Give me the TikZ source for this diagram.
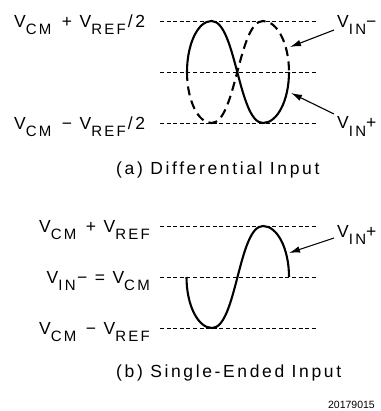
\documentclass[tikz,border=0pt]{standalone}
\usepackage{fontspec}
\setmainfont[LetterSpace=15]{Liberation Sans}
\newfontfamily\numfont{Liberation Sans}
\usetikzlibrary{arrows.meta}
\newcommand{\sbs}[1]{\raisebox{-7.5pt}{\fontsize{15pt}{15pt}\selectfont #1}}
\begin{document}
\begin{tikzpicture}[x=1pt,y=-1pt,
  lbl/.style={inner sep=0pt, font=\fontsize{17.5pt}{17.5pt}\selectfont},
  refline/.style={line width=0.8pt, dash pattern=on 4pt off 2.6pt},
  curve/.style={line width=2.1pt},
  dcurve/.style={line width=2.1pt, dash pattern=on 9pt off 5.5pt},
  pointer/.style={line width=1.1pt, -{Latex[length=11pt,width=6.5pt]}}]
\useasboundingbox (0,0) rectangle (380,411);
% panel (a) reference lines
\foreach \y/\n in {21/at,72/am,123/ab}{
  \coordinate (\n1) at (160,\y);
  \coordinate (\n2) at (316,\y);
  \draw[refline] (\n1) -- (\n2);
}
% V_IN+ (solid) and V_IN- (dashed)
\draw[curve] (187,72) .. controls (187,43.8) and (198,21) .. (211.5,21)
  .. controls (236,21) and (238.5,123) .. (263,123)
  .. controls (277.4,123) and (289,100.2) .. (289,72);
\draw[dcurve] (187,72) .. controls (187,100.2) and (198,123) .. (211.5,123)
  .. controls (236,123) and (238.5,21) .. (263,21)
  .. controls (277.4,21) and (289,43.8) .. (289,72);
% panel (b) reference lines
\foreach \y/\n in {226/bt,277/bm,328/bb}{
  \coordinate (\n1) at (160,\y);
  \coordinate (\n2) at (316,\y);
  \draw[refline] (\n1) -- (\n2);
}
\draw[curve] (186.5,277) .. controls (186.5,305.2) and (198,328) .. (212,328)
  .. controls (236.5,328) and (238.5,226) .. (263,226)
  .. controls (277.4,226) and (289,248.8) .. (289,277);
% labels
\node[lbl, anchor=base west] (la1) at (14,27.3) {V\sbs{CM}\hspace{3pt} + V\sbs{REF}\hspace{2pt}/2};
\node[lbl, anchor=base west] (la2) at (14,129.3) {V\sbs{CM}\hspace{3pt} − V\sbs{REF}\hspace{2pt}/2};
\node[lbl, anchor=base west] (vinm) at (337,27.3) {V\sbs{IN}−};
\node[lbl, anchor=base west] (vinp) at (337,129) {V\sbs{IN}+};
\node[lbl, anchor=west] (capa) at (116,170) {(a) Differential Input};
\node[lbl, anchor=base east] (lb1) at (150,232.3) {V\sbs{CM}\hspace{2pt} + V\sbs{REF}};
\node[lbl, anchor=base east] (lb2) at (150,283.3) {V\sbs{IN}\hspace{1.5pt}− = V\sbs{CM}};
\node[lbl, anchor=base east] (lb3) at (150,334.3) {V\sbs{CM}\hspace{2pt} − V\sbs{REF}};
\node[lbl, anchor=base west] (vinpb) at (337,237) {V\sbs{IN}+};
\node[lbl, anchor=west] (capb) at (116,373) {(b) Single-Ended Input};
\node[font=\numfont\fontsize{10.5pt}{10.5pt}\selectfont, anchor=base east, inner sep=0pt] (num) at (375,408) {20179015};
% pointers
\coordinate (pa1) at (334,30); \coordinate (qa1) at (290,47);
\coordinate (pa2) at (334,114); \coordinate (qa2) at (291,93);
\coordinate (pb1) at (334,238); \coordinate (qb1) at (289,253);
\draw[pointer] (pa1) -- (qa1);
\draw[pointer] (pa2) -- (qa2);
\draw[pointer] (pb1) -- (qb1);
\end{tikzpicture}
\end{document}
